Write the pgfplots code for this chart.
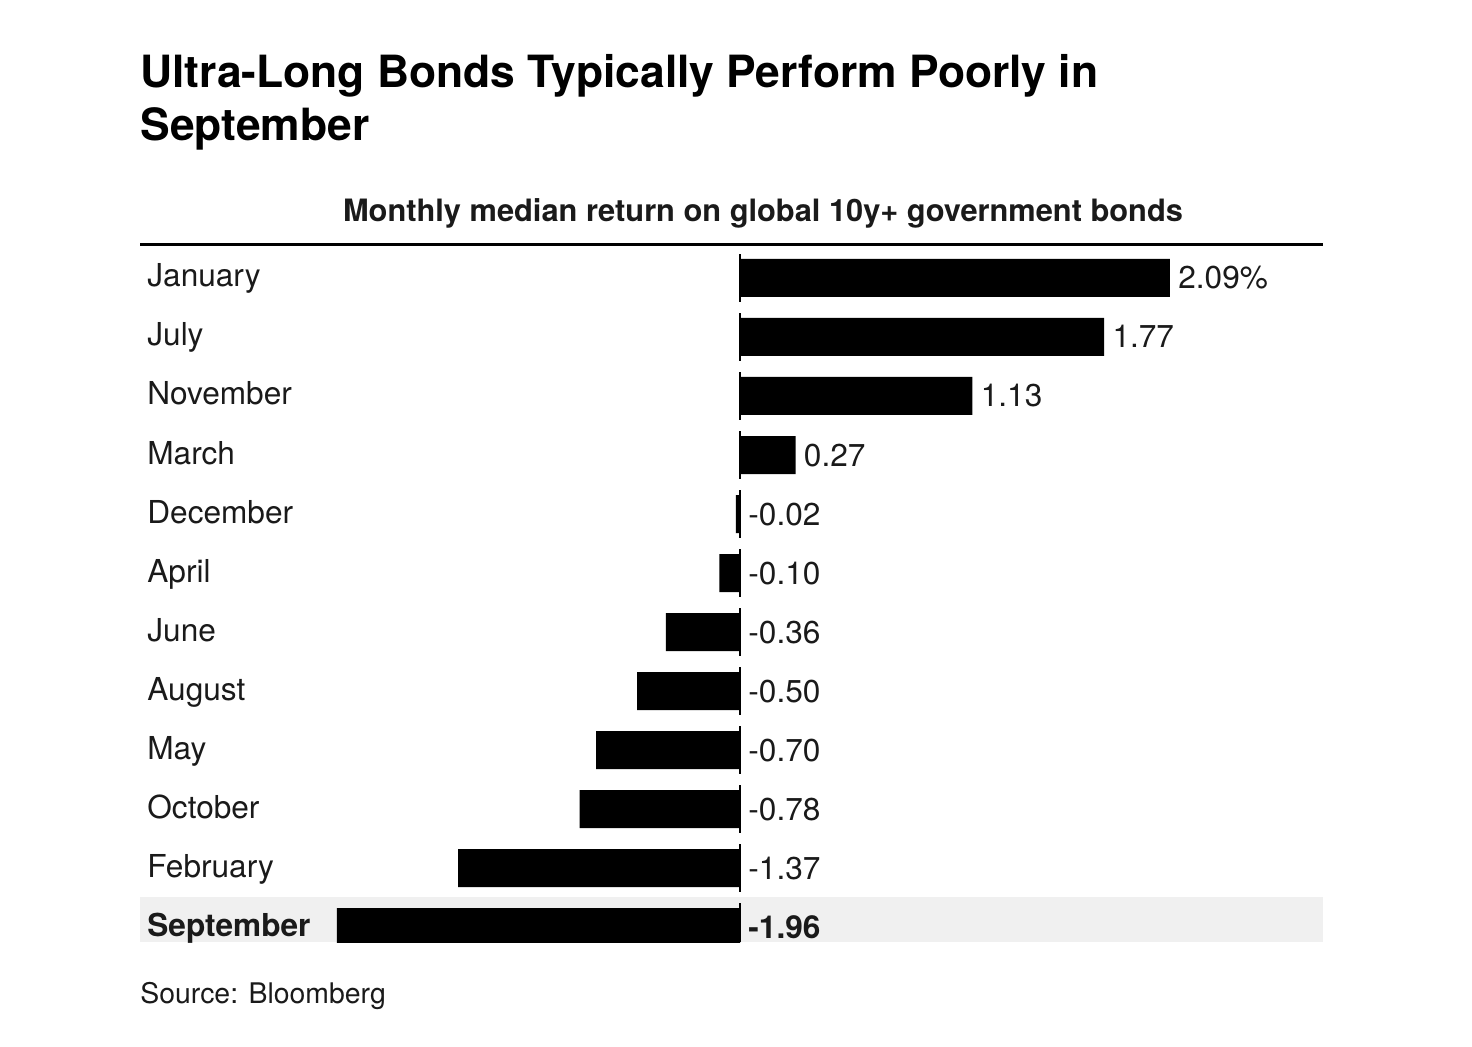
\documentclass[border=0pt]{standalone}
\usepackage{fontspec}
\setmainfont{TeX Gyre Heros}
\usepackage{pgfplots}
\pgfplotsset{compat=1.18}
\definecolor{band}{HTML}{F0F0F0}
\definecolor{ink}{HTML}{1A1A1A}
\begin{document}
\begin{tikzpicture}
% page is 1472x1046 px, 1 px = 0.5pt
\path[use as bounding box] (0,0) rectangle (736pt,523pt);

\node[anchor=base west, inner sep=0pt, font=\fontsize{22.2}{26}\selectfont\bfseries] at (70pt,479pt)
  {Ultra-Long Bonds Typically Perform Poorly in};
\node[anchor=base west, inner sep=0pt, font=\fontsize{22.2}{26}\selectfont\bfseries] at (70pt,452.5pt)
  {September};
\node[anchor=base, inner sep=0pt, font=\fontsize{15.4}{18}\selectfont\bfseries, text=ink] at (381.5pt,412pt)
  {Monthly median return on global 10y+ government bonds};
\node[anchor=base west, inner sep=0pt, font=\fontsize{14.2}{17}\selectfont, text=ink] at (70pt,21.5pt)
  {Source: Bloomberg};

\begin{axis}[
    at={(70pt,52pt)}, anchor=south west,
    scale only axis,
    width=591.5pt, height=348.5pt,
    xmin=-2.917, xmax=2.834,
    ymin=-0.559, ymax=11.254,
    y dir=reverse,
    axis on top,
    axis line style={draw=none},
    tick style={draw=none},
    xtick=\empty,
    ytick={0,...,11},
    yticklabels={January,July,November,March,December,April,June,August,May,October,February,\textbf{September}},
    yticklabel style={anchor=base west, inner sep=0pt, xshift=3.5pt, yshift=-4.5pt,
      font=\fontsize{15.8}{18}\selectfont, text=ink},
  ]
  % highlight band for September
  \addplot[fill=band, draw=none] coordinates {(-2.917,10.49) (2.834,10.49) (2.834,11.254) (-2.917,11.254)} -- cycle;

  \addplot[xbar, bar width=19pt, bar shift=0pt, fill=black, draw=none] coordinates {
    (2.09,0) (1.77,1) (1.13,2) (0.27,3) (-0.02,4) (-0.10,5)
    (-0.36,6) (-0.50,7) (-0.70,8) (-0.78,9) (-1.37,10) (-1.96,11)
  };

  % zero line, one segment per row
  \addplot[black, line width=1pt, unbounded coords=jump] coordinates {
    (0,-0.4) (0,0.4) (0,nan) (0,0.6) (0,1.4) (0,nan) (0,1.6) (0,2.4) (0,nan)
    (0,2.6) (0,3.4) (0,nan) (0,3.6) (0,4.4) (0,nan) (0,4.6) (0,5.4) (0,nan)
    (0,5.6) (0,6.4) (0,nan) (0,6.6) (0,7.4) (0,nan) (0,7.6) (0,8.4) (0,nan)
    (0,8.6) (0,9.4) (0,nan) (0,9.6) (0,10.4) (0,nan) (0,10.6) (0,11.25)
  };

  % value labels: at bar end for gains, at zero for losses
  \addplot[draw=none, mark=none, nodes near coords, point meta=explicit symbolic,
    nodes near coords align={horizontal},
    every node near coord/.append style={anchor=base west, inner sep=0pt, xshift=4pt, yshift=-5.5pt,
      font=\fontsize{15.8}{18}\selectfont, text=ink}]
    coordinates {
    (2.09,0) [2.09\%] (1.77,1) [1.77] (1.13,2) [1.13] (0.27,3) [0.27]
    (0,4) [-0.02] (0,5) [-0.10] (0,6) [-0.36] (0,7) [-0.50]
    (0,8) [-0.70] (0,9) [-0.78] (0,10) [-1.37] (0,11) [\textbf{-1.96}]
  };
\end{axis}

% top rule
\draw[line width=1.5pt] (70pt,400.5pt) -- (661.5pt,400.5pt);
\end{tikzpicture}
\end{document}
